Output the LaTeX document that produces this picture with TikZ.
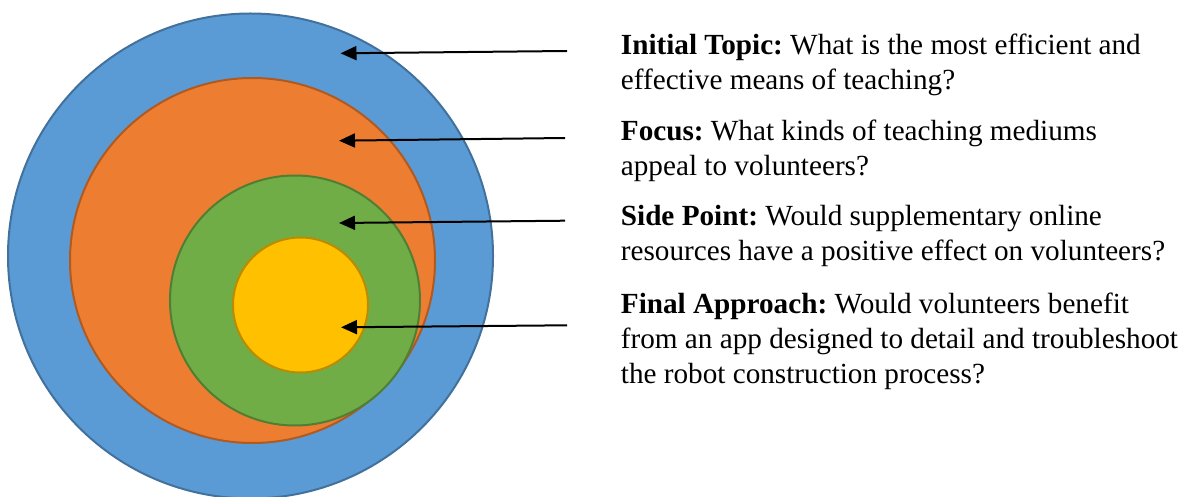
\documentclass[tikz,border=0pt]{standalone}
\usepackage{fontspec}
\setmainfont{Liberation Serif}
\usetikzlibrary{arrows.meta}

\definecolor{topicblue}{HTML}{5B9BD5}
\definecolor{topicblueline}{HTML}{41719C}
\definecolor{focusorange}{HTML}{ED7D31}
\definecolor{focusorangeline}{HTML}{AE5A21}
\definecolor{sidegreen}{HTML}{70AD47}
\definecolor{sidegreenline}{HTML}{507E32}
\definecolor{finalyellow}{HTML}{FFC000}
\definecolor{finalyellowline}{HTML}{BC8C00}

\begin{document}
\begin{tikzpicture}[x=0.5pt,y=-0.5pt,>={Triangle[length=8pt,width=7pt]},
  ring/.style={draw,circle,line width=1pt,inner sep=0pt},
  note/.style={anchor=base west,align=left,inner sep=0pt,font=\fontsize{14.6}{17.5}\selectfont\frenchspacing}]
  \useasboundingbox (0,0) rectangle (1182,497);
  % nested circles, outermost first
  \node[ring,fill=topicblue,draw=topicblueline,minimum size=242.5pt] (T) at (250.5,256) {};
  \node[ring,fill=focusorange,draw=focusorangeline,minimum size=182.5pt] (F) at (252.5,260.5) {};
  \node[ring,fill=sidegreen,draw=sidegreenline,minimum size=125pt] (S) at (295,300.5) {};
  \node[ring,fill=finalyellow,draw=finalyellowline,minimum size=67.5pt] (A) at (300.5,305) {};
  % questions (placed on the baseline of their last line)
  \node[note] (Tq) at (620.5,90) {\textbf{Initial Topic:} What is the most efficient and\\effective means of teaching?};
  \node[note] (Fq) at (620.5,176) {\textbf{Focus:} What kinds of teaching mediums\\appeal to volunteers?};
  \node[note] (Sq) at (620.5,261) {\textbf{Side Point:} Would supplementary online\\resources have a positive effect on volunteers?};
  \node[note] (Aq) at (620.5,383) {\textbf{Final Approach:} Would volunteers benefit\\from an app designed to detail and troubleshoot\\the robot construction process?};
  % arrows
  \coordinate (Tin) at (340.5,53.3);  \coordinate (Tout) at (567,51);
  \coordinate (Fin) at (339,140.7);   \coordinate (Fout) at (565,138);
  \coordinate (Sin) at (339,223);     \coordinate (Sout) at (565,220.7);
  \coordinate (Ain) at (341,327.3);   \coordinate (Aout) at (567,325.3);
  \draw[->,line width=1pt] (Tout) -- (Tin);
  \draw[->,line width=1pt] (Fout) -- (Fin);
  \draw[->,line width=1pt] (Sout) -- (Sin);
  \draw[->,line width=1pt] (Aout) -- (Ain);
\end{tikzpicture}
\end{document}
